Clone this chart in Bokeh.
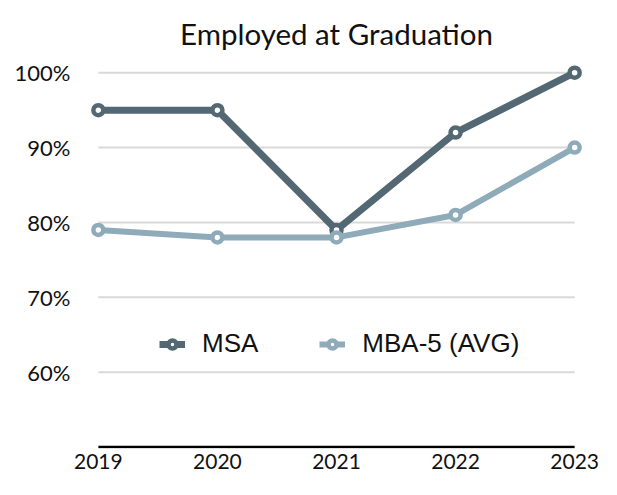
from bokeh.plotting import figure
from bokeh.models import FixedTicker, Range1d, Legend, LegendItem
from bokeh.embed import file_html
from bokeh.resources import INLINE

years = [2019, 2020, 2021, 2022, 2023]
msa = [95, 95, 79, 92, 100]
mba5 = [79, 78, 78, 81, 90]
y_ticks = [60, 70, 80, 90, 100]
y_tick_labels = ["60%", "70%", "80%", "90%", "100%"]
x_tick_labels = ["2019", "2020", "2021", "2022", "2023"]
baseline = 50
title_text = "Employed at Graduation"

MSA_COLOR = "#546873"
MBA_COLOR = "#8fabba"
GRID_COLOR = "#d9d9d9"

p = figure(width=601, height=479, output_backend="svg", toolbar_location=None,
           x_range=Range1d(2018.85, 2023.15), y_range=Range1d(49.8, 101.1),
           min_border_left=80, min_border_right=9, min_border_top=61, min_border_bottom=31,
           title=title_text)
p.outline_line_color = None
p.xgrid.visible = False
p.ygrid.visible = False

p.title.align = "center"
p.title.text_font = "Lato"
p.title.text_font_style = "normal"
p.title.text_font_size = "29.5px"
p.title.text_color = "#111111"
p.title.standoff = 27

# gridlines from tick values
p.segment(x0=[years[0]] * len(y_ticks), x1=[years[-1]] * len(y_ticks),
          y0=y_ticks, y1=y_ticks, line_color=GRID_COLOR, line_width=2)
p.segment(x0=[years[0]], x1=[years[-1]], y0=[baseline], y1=[baseline],
          line_color="black", line_width=2.5)

for ax in (p.xaxis[0], p.yaxis[0]):
    ax.axis_line_color = None
    ax.major_tick_line_color = None
    ax.minor_tick_line_color = None
    ax.major_tick_out = 0
    ax.major_tick_in = 0
    ax.major_label_text_font = "Lato"
    ax.major_label_text_color = "#111111"

p.yaxis.major_label_text_font_size = "22px"
p.xaxis.major_label_text_font_size = "21px"

p.yaxis.ticker = FixedTicker(ticks=y_ticks)
p.yaxis.major_label_overrides = {t: l for t, l in zip(y_ticks, y_tick_labels)}
p.yaxis.major_label_standoff = 10
p.xaxis.ticker = FixedTicker(ticks=years)
p.xaxis.major_label_overrides = {t: l for t, l in zip(years, x_tick_labels)}
p.xaxis.major_label_standoff = 5

l1 = p.line(years, msa, line_color=MSA_COLOR, line_width=7)
s1 = p.scatter(years, msa, size=10, fill_color="white", line_color=MSA_COLOR, line_width=4.5)
l2 = p.line(years, mba5, line_color=MBA_COLOR, line_width=6)
s2 = p.scatter(years, mba5, size=10, fill_color="white", line_color=MBA_COLOR, line_width=4.5)

legend = Legend(items=[LegendItem(label="MSA", renderers=[l1, s1]),
                       LegendItem(label="MBA-5 (AVG)", renderers=[l2, s2])],
                orientation="horizontal", location=(79, 89),
                glyph_width=26, glyph_height=20, label_standoff=17, spacing=61,
                padding=0, margin=0, border_line_color=None, background_fill_alpha=0,
                label_text_font="Liberation Sans", label_text_font_size="26px",
                label_text_color="#111111")
p.add_layout(legend, "center")

open("out.html", "w").write(file_html(p, INLINE))
